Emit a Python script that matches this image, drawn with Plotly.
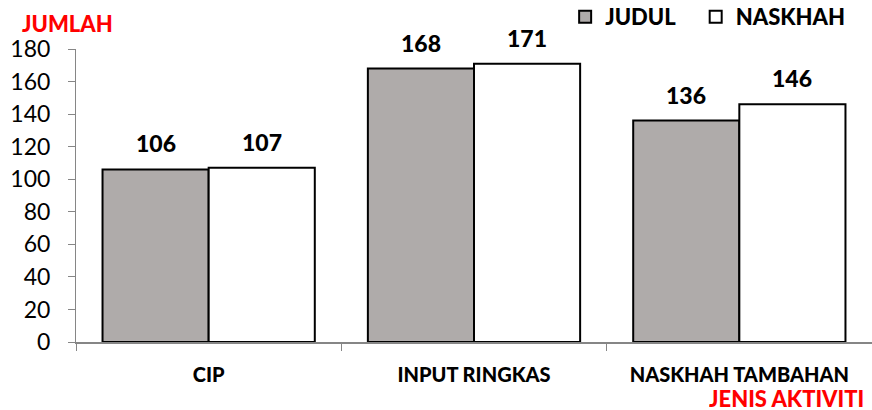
import plotly.graph_objects as go

categories = ["CIP", "INPUT RINGKAS", "NASKHAH TAMBAHAN"]
judul = [106, 168, 136]
naskhah = [107, 171, 146]
series_names = ["JUDUL", "NASKHAH"]
y_ticks = [0, 20, 40, 60, 80, 100, 120, 140, 160, 180]

FONT = "Lato"
GRAY = "#AFABAA"
NBSP = "\u00a0"

fig = go.Figure()
fig.add_trace(go.Bar(x=categories, y=judul, name=series_names[0] + NBSP * 3,
                     marker=dict(color=GRAY, line=dict(color="black", width=2))))
fig.add_trace(go.Bar(x=categories, y=naskhah, name=series_names[1],
                     marker=dict(color="white", line=dict(color="black", width=2))))

annotations = []
for vals, shift in ((judul, -53), (naskhah, 53)):
    for c, v in zip(categories, vals):
        annotations.append(dict(x=c, y=v, xref="x", yref="y", text=str(v),
                                showarrow=False, xshift=shift, yanchor="bottom", yshift=10,
                                font=dict(family=FONT, size=23, color="black", weight=900)))

annotations.append(dict(x=-0.0704, y=1.086, xref="paper", yref="paper", xanchor="left",
                        yanchor="middle", text="JUMLAH", showarrow=False,
                        font=dict(family=FONT, size=22, color="#FF0000", weight=900)))
annotations.append(dict(x=0.9925, y=-0.191, xref="paper", yref="paper", xanchor="right",
                        yanchor="middle", text="JENIS AKTIVITI", showarrow=False, height=22,
                        font=dict(family=FONT, size=22, color="#FF0000", weight=900)))

fig.update_layout(
    width=872, height=410,
    margin=dict(l=76, r=0, t=49, b=68, autoexpand=False),
    paper_bgcolor="white", plot_bgcolor="white",
    barmode="group", bargap=0.2, bargroupgap=0,
    font=dict(family=FONT, color="black"),
    showlegend=True,
    legend=dict(orientation="h", x=0.6145, xanchor="left", y=1.109, yanchor="middle",
                font=dict(family=FONT, size=22, color="black", weight=900),
                itemsizing="constant",
                traceorder="normal", bgcolor="rgba(0,0,0,0)"),
    annotations=annotations,
)
fig.update_xaxes(type="category", range=[-0.5, 2.5], showline=True, linecolor="#868686",
                 linewidth=2, ticks="outside", tickson="boundaries", ticklen=7,
                 tickcolor="#868686", showgrid=False, zeroline=False, ticklabelstandoff=14,
                 tickfont=dict(family=FONT, size=20, color="black", weight=900))
fig.update_yaxes(range=[0, 180], tickvals=y_ticks, showline=True, linecolor="#868686",
                 linewidth=1, ticks="outside", ticklen=7, tickcolor="#868686",
                 showgrid=False, zeroline=False, ticklabelstandoff=13,
                 tickfont=dict(family=FONT, size=23, color="black"))

fig.write_html("out.html")
